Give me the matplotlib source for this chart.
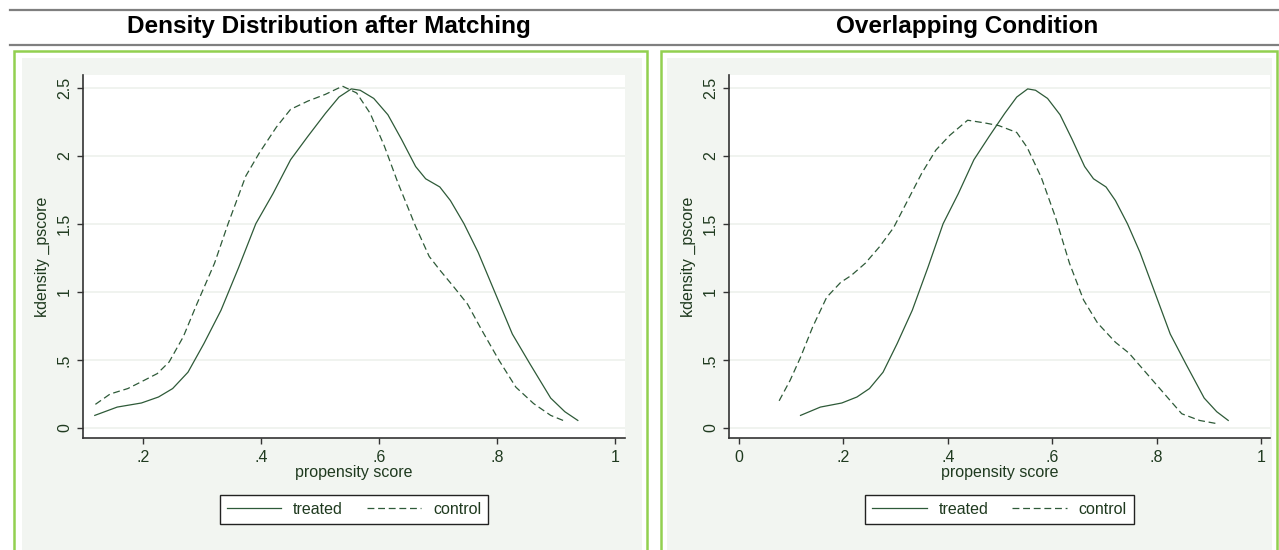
import matplotlib.pyplot as plt
from matplotlib.patches import Rectangle
from matplotlib.lines import Line2D

plt.rcParams['font.family'] = ['Liberation Sans', 'DejaVu Sans']

# treated group density (same in both panels)
treated_x = [0.118, 0.156, 0.197, 0.226, 0.250, 0.276, 0.303, 0.332, 0.362, 0.391,
             0.420, 0.450, 0.479, 0.509, 0.532, 0.553, 0.568, 0.591, 0.615, 0.638,
             0.662, 0.679, 0.703, 0.721, 0.744, 0.768, 0.797, 0.826, 0.856, 0.891,
             0.915, 0.937]
treated_y = [0.093, 0.154, 0.184, 0.228, 0.290, 0.410, 0.620, 0.865, 1.180, 1.500,
             1.720, 1.970, 2.140, 2.310, 2.430, 2.490, 2.480, 2.420, 2.300, 2.120,
             1.920, 1.830, 1.770, 1.670, 1.500, 1.290, 0.990, 0.690, 0.470, 0.220,
             0.120, 0.056]

# control group after matching
matched_x = [0.119, 0.144, 0.174, 0.197, 0.224, 0.244, 0.268, 0.291, 0.321, 0.344,
             0.374, 0.397, 0.426, 0.450, 0.479, 0.509, 0.538, 0.562, 0.585, 0.609,
             0.632, 0.662, 0.685, 0.703, 0.726, 0.750, 0.774, 0.803, 0.832, 0.862,
             0.891, 0.912]
matched_y = [0.174, 0.250, 0.290, 0.340, 0.400, 0.485, 0.670, 0.910, 1.210, 1.500,
             1.850, 2.020, 2.210, 2.340, 2.400, 2.450, 2.510, 2.460, 2.310, 2.070,
             1.800, 1.480, 1.260, 1.160, 1.040, 0.910, 0.720, 0.500, 0.300, 0.180,
             0.093, 0.056]

# control group, overlapping condition
overlap_x = [0.077, 0.098, 0.118, 0.141, 0.168, 0.195, 0.215, 0.242, 0.269, 0.296,
             0.323, 0.350, 0.377, 0.404, 0.438, 0.471, 0.498, 0.532, 0.552, 0.579,
             0.606, 0.633, 0.660, 0.687, 0.721, 0.747, 0.781, 0.815, 0.848, 0.882,
             0.916]
overlap_y = [0.200, 0.350, 0.520, 0.740, 0.960, 1.070, 1.120, 1.210, 1.330, 1.470,
             1.670, 1.870, 2.040, 2.150, 2.260, 2.240, 2.220, 2.170, 2.060, 1.840,
             1.550, 1.210, 0.940, 0.770, 0.630, 0.550, 0.400, 0.250, 0.105, 0.056,
             0.032]

titles = ['Density Distribution after Matching', 'Overlapping Condition']
yticks = [0, 0.5, 1, 1.5, 2, 2.5]
ytick_labels = ['0', '.5', '1', '1.5', '2', '2.5']
left_xticks = [0.2, 0.4, 0.6, 0.8, 1]
left_xlabels = ['.2', '.4', '.6', '.8', '1']
right_xticks = [0, 0.2, 0.4, 0.6, 0.8, 1]
right_xlabels = ['0', '.2', '.4', '.6', '.8', '1']

W, H = 1279, 550
line_col = '#2E5A38'
text_col = '#1F3A1F'
green = '#92D050'
panel_bg = '#F2F5F1'

fig = plt.figure(figsize=(W / 100, H / 100), dpi=100, facecolor='white')


def box(x0, y0, x1, y1, **kw):
    r = Rectangle((x0 / W, 1 - y1 / H), (x1 - x0) / W, (y1 - y0) / H,
                  transform=fig.transFigure, zorder=-5, **kw)
    fig.add_artist(r)


# panel frames
box(14, 50.5, 647, 570, facecolor='white', edgecolor=green, lw=1.8)
box(22, 58, 642, 570, facecolor=panel_bg, edgecolor='none')
box(661, 50.5, 1277, 570, facecolor='white', edgecolor=green, lw=1.8)
box(667, 58, 1272, 570, facecolor=panel_bg, edgecolor='none')

# header rules
for yy in (9.5, 44.5):
    fig.add_artist(Line2D([10 / W, 1], [1 - yy / H] * 2, transform=fig.transFigure,
                          color='#7F7F7F', lw=1.6, zorder=-4))

fig.text(329 / W, 1 - 26 / H, titles[0], ha='center', va='center',
         fontsize=17.5, fontweight='bold', color='black')
fig.text(967 / W, 1 - 26 / H, titles[1], ha='center', va='center',
         fontsize=17.5, fontweight='bold', color='black')

ax1 = fig.add_axes([83 / W, 1 - 438 / H, 542 / W, 363 / H])
ax2 = fig.add_axes([729 / W, 1 - 438 / H, 541 / W, 363 / H])

dash = (0, (5.5, 3))

ax1.plot(treated_x, treated_y, color=line_col, lw=0.9, label='treated')
ax1.plot(matched_x, matched_y, color=line_col, lw=0.9, linestyle=dash, label='control')
ax1.set_xlim(0.098, 1.017)
ax1.set_xticks(left_xticks, left_xlabels)

ax2.plot(treated_x, treated_y, color=line_col, lw=0.9, label='treated')
ax2.plot(overlap_x, overlap_y, color=line_col, lw=0.9, linestyle=dash, label='control')
ax2.set_xlim(-0.019, 1.017)
ax2.set_xticks(right_xticks, right_xlabels)

for ax in (ax1, ax2):
    ax.set_facecolor('white')
    ax.set_ylim(-0.073, 2.592)
    ax.set_yticks(yticks, ytick_labels)
    ax.grid(axis='y', color='#EEF1EC', lw=1.2)
    ax.set_axisbelow(True)
    for s in ('top', 'right'):
        ax.spines[s].set_visible(False)
    for s in ('left', 'bottom'):
        ax.spines[s].set_color('#333333')
        ax.spines[s].set_linewidth(1.2)
    ax.tick_params(axis='both', length=4, width=1, color='#333333',
                   labelsize=11.5, labelcolor=text_col)
    ax.tick_params(axis='x', pad=5)
    ax.tick_params(axis='y', pad=4)
    for lab in ax.get_yticklabels():
        lab.set_rotation(90)
        lab.set_va('center')
    ax.set_xlabel('propensity score', fontsize=11.5, color=text_col, labelpad=0)
    ax.set_ylabel('kdensity _pscore', fontsize=11.5, color=text_col, labelpad=5)
    leg = ax.legend(loc='center', bbox_to_anchor=(0.5, (438 - 509.5) / 363), ncol=2,
                    fontsize=11.5, frameon=True, fancybox=False, framealpha=1,
                    edgecolor='#222222', handlelength=3.4, handletextpad=0.75,
                    columnspacing=1.5, borderpad=0.45, borderaxespad=0)
    leg.get_frame().set_linewidth(1)
    for t in leg.get_texts():
        t.set_color(text_col)

fig.savefig('out.png', dpi=100, facecolor='white')
